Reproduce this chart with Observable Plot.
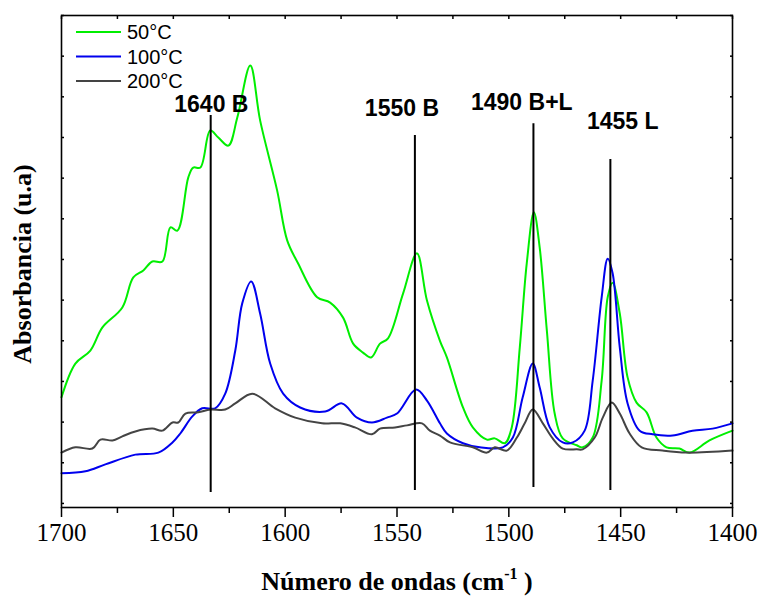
<!DOCTYPE html>
<html><head><meta charset="utf-8">
<script src="https://cdn.jsdelivr.net/npm/d3@7"></script>
<script src="https://cdn.jsdelivr.net/npm/@observablehq/plot@0.6"></script>
<style>body{margin:0;background:#fff} svg{display:block}</style>
</head><body><div id="chart"></div>
<script>
const seriesNames = ["50°C", "100°C", "200°C"];
const seriesColors = ["#00ee00", "#0000ee", "#444444"];

const wn50 = [1700, 1693.8, 1687.1, 1681.7, 1672.8, 1667.9, 1663.4, 1659.4, 1654.9, 1651.3, 1648.2, 1643.3, 1641.1, 1637.9, 1633.5, 1629.9, 1625.4, 1621.4, 1615.6, 1611.2, 1603.6, 1599.1, 1594.2, 1585.7, 1579.9, 1574.1, 1569.6, 1565.2, 1561.6, 1557.6, 1554.0, 1547.3, 1541.1, 1536.6, 1530.8, 1527.7, 1520.5, 1516.1, 1509.8, 1506.3, 1501.8, 1498.7, 1495.1, 1492.0, 1488.8, 1486.2, 1483.0, 1479.5, 1475.9, 1469.6, 1467.0, 1462.5, 1458.5, 1455.8, 1453.6, 1450.4, 1446.9, 1442.9, 1438.4, 1434.0, 1429.5, 1423.7, 1419.2, 1410.3, 1400];
const abs50 = [0.261, 0.344, 0.376, 0.433, 0.482, 0.556, 0.573, 0.595, 0.595, 0.679, 0.671, 0.802, 0.826, 0.826, 0.917, 0.900, 0.880, 0.949, 1.077, 0.942, 0.770, 0.647, 0.590, 0.507, 0.494, 0.457, 0.393, 0.371, 0.359, 0.393, 0.406, 0.516, 0.615, 0.499, 0.400, 0.359, 0.236, 0.187, 0.157, 0.160, 0.148, 0.187, 0.384, 0.590, 0.716, 0.629, 0.425, 0.221, 0.160, 0.143, 0.138, 0.162, 0.302, 0.507, 0.543, 0.467, 0.310, 0.248, 0.224, 0.162, 0.138, 0.135, 0.125, 0.155, 0.179];

const wn100 = [1700, 1689.3, 1680.4, 1667.0, 1656.7, 1650.4, 1646.9, 1641.5, 1637.1, 1631.3, 1626.8, 1622.3, 1619.2, 1615.2, 1611.2, 1606.7, 1600.9, 1593.3, 1582.1, 1574.6, 1567.9, 1561.2, 1554.5, 1550.0, 1541.5, 1536.6, 1530.8, 1527.7, 1520.5, 1513.0, 1502.7, 1498.2, 1493.8, 1489.3, 1486.2, 1481.7, 1475.9, 1471.4, 1466.1, 1462.5, 1458.5, 1455.8, 1453.6, 1450.4, 1446.9, 1441.5, 1435.7, 1426.8, 1417.9, 1408.9, 1400];
const abs100 = [0.074, 0.079, 0.096, 0.120, 0.125, 0.150, 0.172, 0.214, 0.234, 0.234, 0.270, 0.376, 0.492, 0.546, 0.467, 0.344, 0.270, 0.236, 0.226, 0.246, 0.211, 0.199, 0.211, 0.221, 0.280, 0.253, 0.197, 0.172, 0.148, 0.138, 0.138, 0.162, 0.261, 0.344, 0.285, 0.187, 0.150, 0.150, 0.179, 0.302, 0.507, 0.602, 0.566, 0.384, 0.246, 0.179, 0.170, 0.167, 0.179, 0.184, 0.197];

const wn200 = [1700, 1693.8, 1686.2, 1682.6, 1677.2, 1672.8, 1667.0, 1659.4, 1654.9, 1650.4, 1647.8, 1644.6, 1638.8, 1633.5, 1626.8, 1622.3, 1614.7, 1604.5, 1595.5, 1583.5, 1575.4, 1568.8, 1561.2, 1557.6, 1550.9, 1545.5, 1538.8, 1535.3, 1530.8, 1526.3, 1516.1, 1509.8, 1506.3, 1500.9, 1496.4, 1492.9, 1489.3, 1484.8, 1480.4, 1475.9, 1469.6, 1467.0, 1461.6, 1458.0, 1454.0, 1450.4, 1446.0, 1440.6, 1431.3, 1420.5, 1400];
const abs200 = [0.125, 0.138, 0.135, 0.157, 0.155, 0.165, 0.177, 0.184, 0.179, 0.199, 0.199, 0.221, 0.224, 0.231, 0.231, 0.246, 0.270, 0.234, 0.211, 0.197, 0.197, 0.187, 0.170, 0.184, 0.187, 0.192, 0.197, 0.179, 0.167, 0.150, 0.138, 0.125, 0.138, 0.130, 0.162, 0.197, 0.231, 0.197, 0.160, 0.135, 0.133, 0.133, 0.162, 0.211, 0.248, 0.221, 0.172, 0.138, 0.130, 0.125, 0.130];

const peakLabels = ["1640 B", "1550 B", "1490 B+L", "1455 L"];
const peakLineX = [1633.3, 1542.0, 1489.0, 1454.6];
const peakLineTop = [0.954, 0.905, 0.934, 0.846];
const peakLineBottom = [0.027, 0.032, 0.039, 0.032];
const peakLabelX = [1633.0, 1547.8, 1494.2, 1449.1];
const peakLabelY = [0.962, 0.952, 0.967, 0.920];

const xMajorTicks = [1700, 1650, 1600, 1550, 1500, 1450, 1400];
const xMinorTicks = [1675, 1625, 1575, 1525, 1475, 1425];
const yTicks = d3.range(0, 13).map(i => +(i * 0.1).toFixed(1));

const toRows = (wn, ab, name) => wn.map((w, i) => ({wn: w, a: ab[i], s: name}));
const rows = [
  ...toRows(wn50, abs50, seriesNames[0]),
  ...toRows(wn100, abs100, seriesNames[1]),
  ...toRows(wn200, abs200, seriesNames[2])
];
const peaks = peakLabels.map((t, i) => ({t, x: peakLineX[i], y1: peakLineBottom[i], y2: peakLineTop[i], lx: peakLabelX[i], ly: peakLabelY[i]}));

const W = 759, H = 596;
const plot = Plot.plot({
  width: W, height: H,
  marginLeft: 61, marginRight: 27, marginTop: 15, marginBottom: 89,
  style: {background: "white", color: "black", fontFamily: "Liberation Serif"},
  x: {domain: [1700, 1400]},
  y: {domain: [-0.01, 1.2]},
  color: {domain: seriesNames, range: seriesColors},
  marks: [
    Plot.line(rows, {x: "wn", y: "a", z: "s", stroke: "s", strokeWidth: 2, curve: "catmull-rom"}),
    Plot.ruleX(peaks, {x: "x", y1: "y1", y2: "y2", stroke: "black", strokeWidth: 2}),
    Plot.text(peaks, {x: "lx", y: "ly", text: "t", lineAnchor: "bottom", fontFamily: "Liberation Sans", fontWeight: "bold", fontSize: 23, fill: "black"}),
    Plot.axisX({anchor: "bottom", ticks: xMajorTicks, tickSize: 10, tickPadding: 6, tickFormat: d => String(d), fontSize: 25, fontFamily: "Liberation Serif", label: null, strokeWidth: 1.5}),
    Plot.axisX({anchor: "bottom", ticks: xMinorTicks, tickSize: 6, tickFormat: () => "", label: null, strokeWidth: 1.5}),
    Plot.axisX({anchor: "top", ticks: [...xMajorTicks, ...xMinorTicks], tickSize: -3, tickFormat: () => "", label: null, strokeWidth: 1.5}),
    Plot.axisY({anchor: "left", ticks: yTicks, tickSize: -3, tickFormat: () => "", label: null, strokeWidth: 1.5}),
    Plot.axisY({anchor: "right", ticks: yTicks, tickSize: -3, tickFormat: () => "", label: null, strokeWidth: 1.5}),
    Plot.frame({stroke: "black", strokeWidth: 1.6})
  ]
});

const svg = d3.select(plot);
// x axis label with superscript
const xl = svg.append("text")
  .attr("x", 397).attr("y", 590)
  .attr("text-anchor", "middle")
  .attr("font-family", "Liberation Serif").attr("font-weight", "bold").attr("font-size", 26)
  .attr("fill", "black");
xl.append("tspan").text("Número de ondas (cm");
xl.append("tspan").attr("font-size", 16).attr("dy", -11).text("-1");
xl.append("tspan").attr("dy", 11).text(" )");
// y axis label
svg.append("text")
  .attr("transform", "translate(31,264) rotate(-90)")
  .attr("text-anchor", "middle")
  .attr("font-family", "Liberation Serif").attr("font-weight", "bold").attr("font-size", 26)
  .attr("fill", "black")
  .text("Absorbancia (u.a)");
// legend
const lg = svg.append("g");
seriesNames.forEach((n, i) => {
  const y = 32 + i * 24.5;
  lg.append("line").attr("x1", 76).attr("x2", 121).attr("y1", y).attr("y2", y)
    .attr("stroke", seriesColors[i]).attr("stroke-width", 2);
  lg.append("text").attr("x", 127).attr("y", y + 7)
    .attr("text-anchor", "start")
    .attr("font-family", "Liberation Sans").attr("font-size", 20).attr("fill", "black").text(n);
});

document.getElementById("chart").appendChild(plot);
</script>
</body></html>
